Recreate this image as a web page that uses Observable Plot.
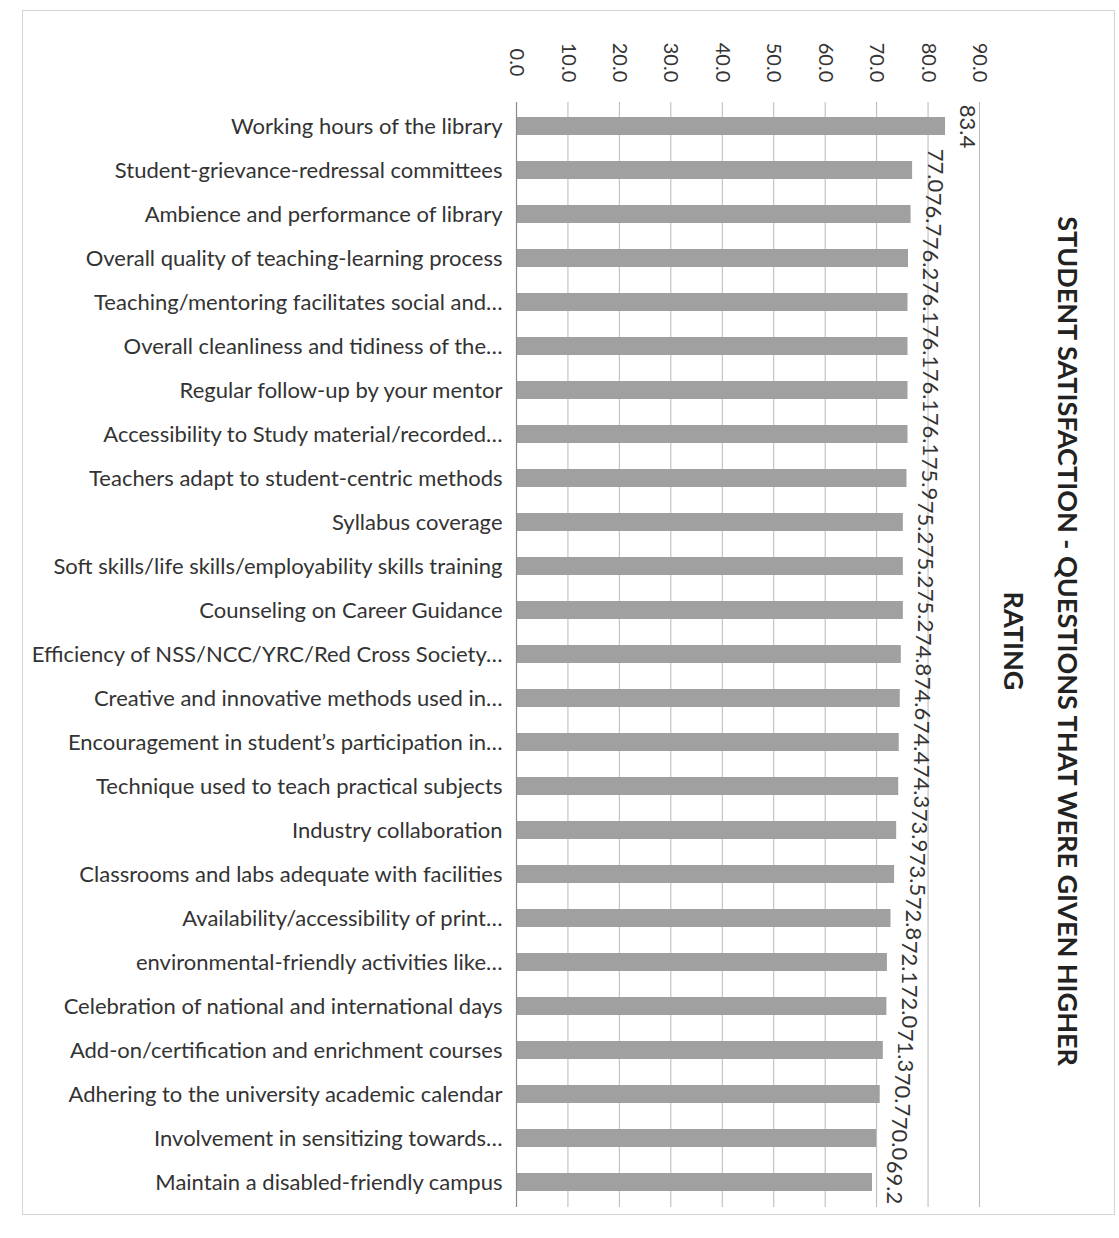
<!DOCTYPE html>
<html><head><meta charset="utf-8">
<script src="https://cdn.jsdelivr.net/npm/d3@7"></script>
<script src="https://cdn.jsdelivr.net/npm/@observablehq/plot@0.6"></script>
<style>
html,body{margin:0;padding:0;background:#fff;}
#wrap{position:relative;width:1119px;height:1238px;overflow:hidden;}
#frame{position:absolute;left:22px;top:10px;width:1093px;height:1205px;border:1px solid #d4d4d4;box-sizing:border-box;pointer-events:none;}
#wrap svg{position:absolute;left:0;top:0;}
</style></head><body><div id="wrap"><div id="frame"></div></div>
<script>
const categories = [
  "Working hours of the library",
  "Student-grievance-redressal committees",
  "Ambience and performance of library",
  "Overall quality of teaching-learning process",
  "Teaching/mentoring facilitates social and…",
  "Overall cleanliness and tidiness of the…",
  "Regular follow-up by your mentor",
  "Accessibility to Study material/recorded…",
  "Teachers adapt to student-centric methods",
  "Syllabus coverage",
  "Soft skills/life skills/employability skills training",
  "Counseling on Career Guidance",
  "Efficiency of NSS/NCC/YRC/Red Cross Society…",
  "Creative and innovative methods used in…",
  "Encouragement in student’s participation in…",
  "Technique used to teach practical subjects",
  "Industry collaboration",
  "Classrooms and labs adequate with facilities",
  "Availability/accessibility of print…",
  "environmental-friendly activities like…",
  "Celebration of national and international days",
  "Add-on/certification and enrichment courses",
  "Adhering to the university academic calendar",
  "Involvement in sensitizing towards…",
  "Maintain a disabled-friendly campus"
];
const ratings = [83.4, 77.0, 76.7, 76.2, 76.1, 76.1, 76.1, 76.1, 75.9, 75.2, 75.2, 75.2, 74.8, 74.6, 74.4, 74.3, 73.9, 73.5, 72.8, 72.1, 72.0, 71.3, 70.7, 70.0, 69.2];
const xTicks = [0, 10, 20, 30, 40, 50, 60, 70, 80, 90];
const titleText = "STUDENT SATISFACTION - QUESTIONS THAT WERE GIVEN HIGHER\nRATING";

const data = categories.map((c, i) => ({category: c, rating: ratings[i]}));

const chart = Plot.plot({
  width: 1119,
  height: 1238,
  marginLeft: 516,
  marginRight: 140,
  marginTop: 102,
  marginBottom: 31,
  style: {fontFamily: "Lato, 'Open Sans', sans-serif", color: "#333", background: "transparent"},
  x: {domain: [0, 90], axis: null},
  y: {domain: categories, paddingInner: 0.58, paddingOuter: 0.29, axis: null},
  marks: [
    Plot.gridX(xTicks, {stroke: "#b8b8b8", strokeOpacity: 1, strokeWidth: 1}),
    Plot.barX(data, {x: "rating", y: "category", fill: "#a0a0a0"}),
    Plot.ruleX([0], {stroke: "#8a8a8a", strokeWidth: 1.2}),
    Plot.axisY({label: null, tickSize: 0, tickPadding: 14, fontSize: 22, fill: "#333"}),
    Plot.text(xTicks, {x: d => d, frameAnchor: "top", dy: -40, rotate: 90, text: d => d.toFixed(1), fontSize: 20, fill: "#333", textAnchor: "middle", lineAnchor: "middle"}),
    Plot.text(data, {x: "rating", y: "category", dx: 22, rotate: 90, text: d => d.rating.toFixed(1), fontSize: 22, fill: "#333", textAnchor: "middle", lineAnchor: "middle"}),
    Plot.text([titleText], {frameAnchor: "middle", dx: 300, dy: -14, rotate: 90, text: d => d, fontSize: 27, fontWeight: "bold", fill: "#222", textAnchor: "middle", lineAnchor: "middle", lineHeight: 2.0})
  ]
});
document.getElementById("wrap").appendChild(chart);
</script>
</body></html>
